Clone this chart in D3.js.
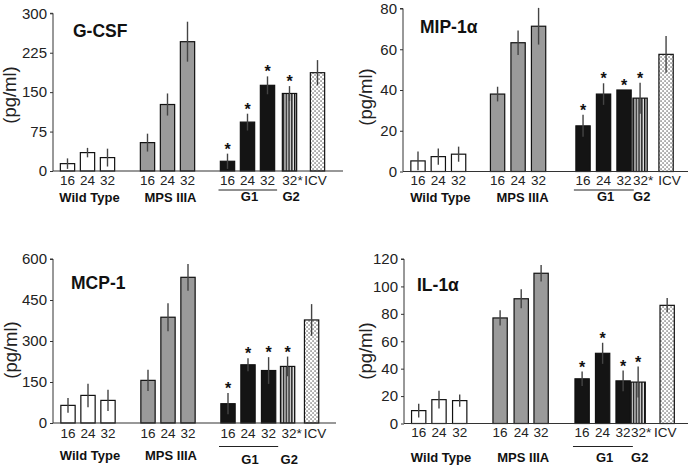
<!DOCTYPE html>
<html>
<head>
<meta charset="utf-8">
<script src="https://cdn.jsdelivr.net/npm/d3@7"></script>
<style>
  html, body { margin: 0; padding: 0; background: #fff; }
  svg { display: block; font-family: "Liberation Sans", Arial, sans-serif; }
</style>
</head>
<body>
<svg id="chart" width="688" height="467"></svg>
<script>
// ---------------- data ----------------
const categories = ["16", "24", "32", "16", "24", "32", "16", "24", "32", "32*", "ICV"];
const barKinds   = ["wt", "wt", "wt", "mps", "mps", "mps", "g1", "g1", "g1", "g2", "icv"];
const significant = [0, 0, 0, 0, 0, 0, 1, 1, 1, 1, 0];
const groupLabels = ["Wild Type", "MPS IIIA", "G1", "G2"];

const gcsfValues = [14, 35, 25.5, 54, 126.5, 246, 18.5, 93, 163, 147.5, 187];
const gcsfErrors = [10, 9, 17, 17, 21, 38, 14.5, 16, 17, 14, 24];
const gcsfTicks  = [0, 75, 150, 225, 300];

const mipValues = [5.2, 7.3, 8.5, 38, 63.2, 71.3, 22.4, 38, 40, 36, 57.5];
const mipErrors = [4.6, 4, 3.7, 3.6, 6, 9, 5.4, 5.3, 0, 7.6, 9];
const mipTicks  = [0, 20, 40, 60, 80];

const mcpValues = [64.5, 101, 82.7, 156, 387, 533, 70.6, 213, 192, 207, 377];
const mcpErrors = [27, 43, 39, 39, 51, 49, 39, 24, 49, 36, 58];
const mcpTicks  = [0, 150, 300, 450, 600];

const ilValues = [9.4, 17.4, 16.7, 77, 91, 109.6, 32.6, 51.2, 31.1, 30.2, 86.2];
const ilErrors = [5, 6.5, 4.5, 5.6, 7, 6, 5.3, 7.7, 7.5, 11.3, 5.3];
const ilTicks  = [0, 20, 40, 60, 80, 100, 120];

// ---------------- layout ----------------
const panels = [
  { title: "G-CSF", values: gcsfValues, errors: gcsfErrors, ticks: gcsfTicks,
    axisX: 53, y0: 171, yTop: 13.3, xEnd: 343, x0: 67.5, step: 20,
    slots: [0, 1, 2, 4, 5, 6, 8, 9, 10, 11.1, 12.5],
    titleX: 73, titleY: 37, ylabX: 16, ylabY: 95,
    numY: 184.5, grpY: 201.5, g1LineY: 190, g1Y: 200.5, g2Dx: 3, icvDx: -2 },
  { title: "MIP-1α", values: mipValues, errors: mipErrors, ticks: mipTicks,
    axisX: 403, y0: 171.5, yTop: 8.5, xEnd: 688, x0: 418, step: 20.3,
    slots: [0, 1, 2, 3.92, 4.93, 5.94, 8.13, 9.14, 10.15, 10.94, 12.22],
    titleX: 420, titleY: 33, ylabX: 372, ylabY: 97,
    numY: 185, grpY: 202, g1LineY: 190, g1Y: 200.5, g2Dx: 3, icvDx: 3.5 },
  { title: "MCP-1", values: mcpValues, errors: mcpErrors, ticks: mcpTicks,
    axisX: 53, y0: 423, yTop: 259, xEnd: 336, x0: 68, step: 20,
    slots: [0, 1, 2, 4, 5, 6, 8, 9, 10.03, 10.98, 12.18],
    titleX: 71, titleY: 289, ylabX: 17, ylabY: 350,
    numY: 437.5, grpY: 460, g1LineY: 446.5, g1Y: 464, g2Dx: 4, icvDx: 3.5 },
  { title: "IL-1α", values: ilValues, errors: ilErrors, ticks: ilTicks,
    axisX: 404, y0: 423.5, yTop: 259, xEnd: 688, x0: 418.7, step: 20.3,
    slots: [0, 1, 2.02, 4.01, 5.05, 6.03, 8.05, 9.06, 10.07, 10.81, 12.24],
    titleX: 417, titleY: 291, ylabX: 372, ylabY: 351,
    numY: 437, grpY: 461.5, g1LineY: 446.5, g1Y: 462, g2Dx: 3, icvDx: -2 }
];

const barW = 14.3;
const fills = { wt: "#ffffff", mps: "#9a9a9a", g1: "#141414", g2: "url(#stripes)", icv: "url(#dots)" };

const svg = d3.select("#chart");

// patterns
const defs = svg.append("defs");
const stripes = defs.append("pattern").attr("id", "stripes")
  .attr("patternUnits", "userSpaceOnUse").attr("width", 2.8).attr("height", 10);
stripes.append("rect").attr("width", 2.8).attr("height", 10).attr("fill", "#e4e4e4");
stripes.append("rect").attr("width", 1.4).attr("height", 10).attr("fill", "#111");

const dots = defs.append("pattern").attr("id", "dots")
  .attr("patternUnits", "userSpaceOnUse").attr("width", 4).attr("height", 4);
dots.append("rect").attr("width", 4).attr("height", 4).attr("fill", "#fff");
dots.append("rect").attr("x", 0.4).attr("y", 0.4).attr("width", 1.3).attr("height", 1.3).attr("fill", "#555");
dots.append("rect").attr("x", 2.4).attr("y", 2.4).attr("width", 1.3).attr("height", 1.3).attr("fill", "#555");

panels.forEach(p => {
  const g = svg.append("g");
  const ymax = p.ticks[p.ticks.length - 1];
  const y = d3.scaleLinear().domain([0, ymax]).range([p.y0, p.yTop]);
  const lastSlot = p.slots[p.slots.length - 1];
  const x = d3.scaleLinear().domain([0, lastSlot]).range([p.x0, p.x0 + lastSlot * p.step]);

  // y axis
  const yAxis = d3.axisLeft(y).tickValues(p.ticks).tickSize(3).tickPadding(3).tickFormat(d3.format("d"));
  const ya = g.append("g").attr("transform", `translate(${p.axisX},0)`).call(yAxis);
  ya.select(".domain").attr("stroke", "#333").attr("stroke-width", 1).attr("d", `M-3,${p.yTop}H0V${p.y0}`);
  ya.selectAll(".tick line").attr("stroke", "#333");
  ya.selectAll(".tick text").attr("font-size", 15).attr("fill", "#222")
    .attr("font-family", "'Liberation Sans', Arial, sans-serif");

  // bars
  const data = categories.map((c, i) => ({
    i, cat: c, kind: barKinds[i], v: p.values[i], e: p.errors[i], sig: significant[i], s: p.slots[i]
  }));

  g.selectAll("rect.bar").data(data).join("rect")
    .attr("class", "bar")
    .attr("x", d => x(d.s) - barW / 2)
    .attr("y", d => y(d.v))
    .attr("width", barW)
    .attr("height", d => p.y0 - y(d.v))
    .attr("fill", d => fills[d.kind])
    .attr("stroke", "#111")
    .attr("stroke-width", 1.2);

  // error bars
  g.selectAll("line.err").data(data.filter(d => d.e > 0)).join("line")
    .attr("class", "err")
    .attr("x1", d => x(d.s)).attr("x2", d => x(d.s))
    .attr("y1", d => y(Math.max(0, d.v - d.e)))
    .attr("y2", d => y(d.v + d.e))
    .attr("stroke", "#444").attr("stroke-width", 1.4);

  // significance stars
  g.selectAll("text.star").data(data.filter(d => d.sig)).join("text")
    .attr("class", "star")
    .attr("x", d => x(d.s))
    .attr("y", d => y(d.v + d.e) + 1)
    .attr("text-anchor", "middle")
    .attr("font-size", 16)
    .attr("font-weight", "bold")
    .attr("fill", "#111")
    .text("*");

  // x axis baseline
  g.append("line")
    .attr("x1", p.axisX).attr("x2", p.xEnd)
    .attr("y1", p.y0).attr("y2", p.y0)
    .attr("stroke", "#333").attr("stroke-width", 1.2);

  // category labels
  g.selectAll("text.cat").data(data).join("text")
    .attr("class", "cat")
    .attr("x", d => x(d.s) + (d.kind === "g2" ? p.g2Dx : d.kind === "icv" ? p.icvDx : 0))
    .attr("y", p.numY)
    .attr("text-anchor", "middle")
    .attr("font-size", 13.5)
    .attr("fill", "#222")
    .text(d => d.cat);

  // group labels
  const grpPos = [
    { label: groupLabels[0], s: 1.1, y: p.grpY },
    { label: groupLabels[1], s: 5.15, y: p.grpY },
    { label: groupLabels[2], s: p.slots[7] + 0.1, y: p.g1Y },
    { label: groupLabels[3], s: p.slots[9] + 0.08, y: p.g1Y }
  ];
  g.selectAll("text.grp").data(grpPos).join("text")
    .attr("class", "grp")
    .attr("x", d => x(d.s))
    .attr("y", d => d.y)
    .attr("text-anchor", "middle")
    .attr("font-size", 13)
    .attr("font-weight", "bold")
    .attr("fill", "#111")
    .text(d => d.label);

  // G1 underline
  g.append("line")
    .attr("x1", x(p.slots[6] - 0.45)).attr("x2", x(p.slots[8] + 0.48))
    .attr("y1", p.g1LineY).attr("y2", p.g1LineY)
    .attr("stroke", "#222").attr("stroke-width", 1);

  // title
  g.append("text")
    .attr("x", p.titleX).attr("y", p.titleY)
    .attr("font-size", 17.5).attr("font-weight", "bold").attr("fill", "#111")
    .text(p.title);

  // y label
  g.append("text")
    .attr("transform", `translate(${p.ylabX},${p.ylabY}) rotate(-90)`)
    .attr("text-anchor", "middle")
    .attr("font-size", 18.5).attr("fill", "#222")
    .text("(pg/ml)");
});
</script>
</body>
</html>
